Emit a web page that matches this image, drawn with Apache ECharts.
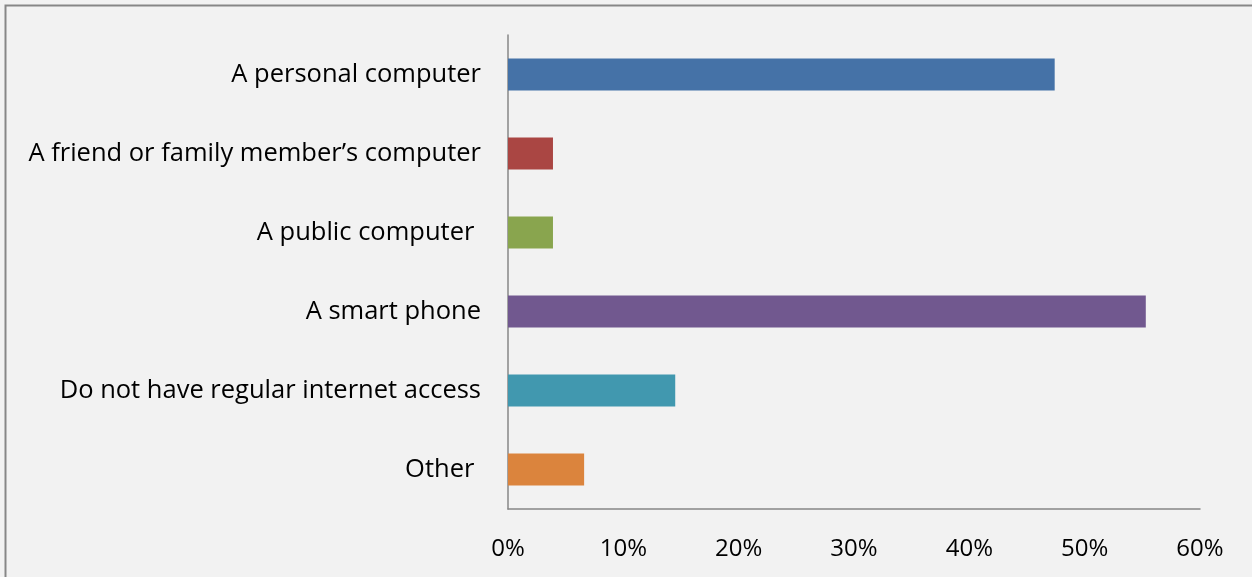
<!DOCTYPE html>
<html>
<head>
<meta charset="utf-8">
<script src="https://cdn.jsdelivr.net/npm/echarts@6/dist/echarts.min.js"></script>
<style>
  html, body { margin: 0; padding: 0; background: #ffffff; }
  #chart { width: 1252px; height: 577px; }
</style>
</head>
<body>
<div id="chart"></div>
<script>
// Where respondents usually get online (share of respondents, %)
const categories = [
  'A personal computer',
  'A friend or family member\u2019s computer',
  'A public computer ',
  'A smart phone',
  'Do not have regular internet access',
  'Other '
];
const values = [47.4, 3.9, 3.9, 55.3, 14.5, 6.6];
const barColors = ['#4572A7', '#AA4643', '#89A54E', '#71588F', '#4198AF', '#DB843D'];
const xTicks = [0, 10, 20, 30, 40, 50, 60];

const FONT = '"Open Sans", "Noto Sans", sans-serif';
const chart = echarts.init(document.getElementById('chart'), null, { renderer: 'canvas' });

chart.setOption({
  backgroundColor: '#F2F2F2',
  animation: false,
  graphic: [{
    type: 'rect',
    silent: true,
    shape: { x: 5.5, y: 5.5, width: 1400, height: 800 },
    style: { fill: 'none', stroke: '#878787', lineWidth: 2 }
  }],
  grid: { left: 508, right: 52, top: 35, bottom: 68, containLabel: false },
  xAxis: {
    type: 'value',
    min: xTicks[0],
    max: xTicks[xTicks.length - 1],
    interval: 10,
    splitLine: { show: false },
    axisTick: { show: false },
    axisLine: { show: true, lineStyle: { color: '#878787', width: 1.5 } },
    axisLabel: {
      margin: 28,
      color: '#000000',
      fontFamily: FONT,
      fontSize: 24,
      formatter: v => v + '%'
    }
  },
  yAxis: {
    type: 'category',
    inverse: true,
    data: categories,
    axisTick: { show: false },
    axisLine: { show: true, lineStyle: { color: '#878787', width: 1.5 } },
    axisLabel: {
      margin: 27,
      color: '#000000',
      fontFamily: FONT,
      fontSize: 25.5
    }
  },
  series: [{
    type: 'bar',
    barWidth: 32,
    data: values.map((v, i) => ({ value: v, itemStyle: { color: barColors[i] } }))
  }]
});
</script>
</body>
</html>
